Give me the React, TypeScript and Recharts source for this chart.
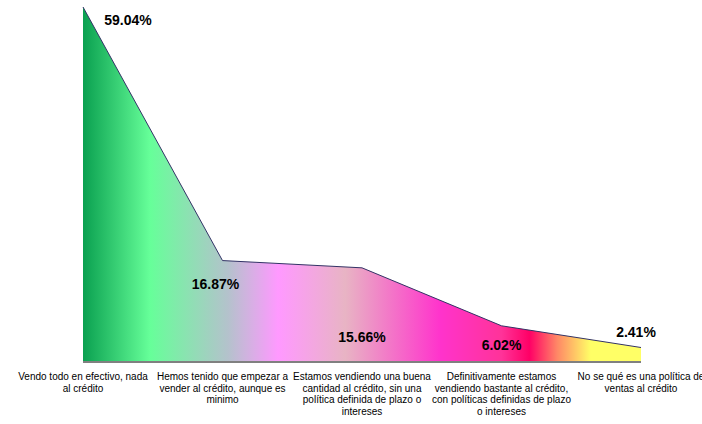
import React from 'react';
import { Area, AreaChart, LabelList, XAxis, YAxis } from 'recharts';

// Survey answers (x categories, with the line breaks seen under the axis).
const categories = [
  'Vendo todo en efectivo, nada\nal crédito',
  'Hemos tenido que empezar a\nvender al crédito, aunque es\nminimo',
  'Estamos vendiendo una buena\ncantidad al crédito, sin una\npolítica definida de plazo o\nintereses',
  'Definitivamente estamos\nvendiendo bastante al crédito,\ncon políticas definidas de plazo\no intereses',
  'No se qué es una política de\nventas al crédito',
];

// Share of respondents, in percent.
const shares = [59.04, 16.87, 15.66, 6.02, 2.41];

// Hand-placed data labels in the source chart (dx, dy from the point).
const labelNudges = [
  [45, 13],
  [-7, 23],
  [0, 69],
  [0, 19],
  [-5, -16],
];

const data = categories.map((name, i) => ({ name, value: shares[i] }));

const FONT = '"Liberation Sans", Arial, sans-serif';

function WrappedTick({ x, y, payload }: any) {
  const lines = String(payload.value).split('\n');
  return (
    <text x={x} y={y} textAnchor="middle" fontFamily={FONT} fontSize={10} fill="#000">
      {lines.map((line, i) => (
        <tspan key={i} x={x} dy={i === 0 ? 10 : 11.5}>
          {line}
        </tspan>
      ))}
    </text>
  );
}

function PctLabel({ x, y, index, value }: any) {
  const [dx, dy] = labelNudges[index] ?? [0, 0];
  return (
    <text
      x={x + dx}
      y={y + dy}
      textAnchor="middle"
      dominantBaseline="central"
      fontFamily={FONT}
      fontWeight="bold"
      fontSize={14}
      fill="#000"
    >
      {`${Number(value).toFixed(2)}%`}
    </text>
  );
}

export default function App() {
  return (
    <div style={{ position: 'absolute', left: 0, top: 0, background: '#fff' }}>
      <AreaChart
        width={702}
        height={424}
        data={data}
        margin={{ top: 7, right: 61, left: 83, bottom: 2 }}
      >
        <defs>
          <linearGradient id="fillGrad" x1="0" y1="0" x2="1" y2="0">
            <stop offset="0%" stopColor="#0aa050" />
            <stop offset="12%" stopColor="#66ff99" />
            <stop offset="26%" stopColor="#b4c2cc" />
            <stop offset="35%" stopColor="#ff99ff" />
            <stop offset="47%" stopColor="#e8b4c4" />
            <stop offset="64%" stopColor="#ff33cc" />
            <stop offset="75%" stopColor="#ff3399" />
            <stop offset="80%" stopColor="#ff0066" />
            <stop offset="85%" stopColor="#ff8866" />
            <stop offset="91%" stopColor="#ffff66" />
            <stop offset="100%" stopColor="#ffff66" />
          </linearGradient>
        </defs>
        <XAxis
          dataKey="name"
          height={60}
          interval={0}
          tickLine={false}
          axisLine={{ stroke: '#808080', strokeWidth: 2 }}
          tick={<WrappedTick />}
        />
        <YAxis
          domain={[0, 59.04]}
          width={0}
          tick={false}
          tickLine={false}
          axisLine={{ stroke: '#333366', strokeWidth: 1 }}
        />
        <Area
          type="linear"
          dataKey="value"
          stroke="#333366"
          strokeWidth={1}
          fill="url(#fillGrad)"
          fillOpacity={1}
          isAnimationActive={false}
        >
          <LabelList dataKey="value" content={<PctLabel />} />
        </Area>
      </AreaChart>
    </div>
  );
}
